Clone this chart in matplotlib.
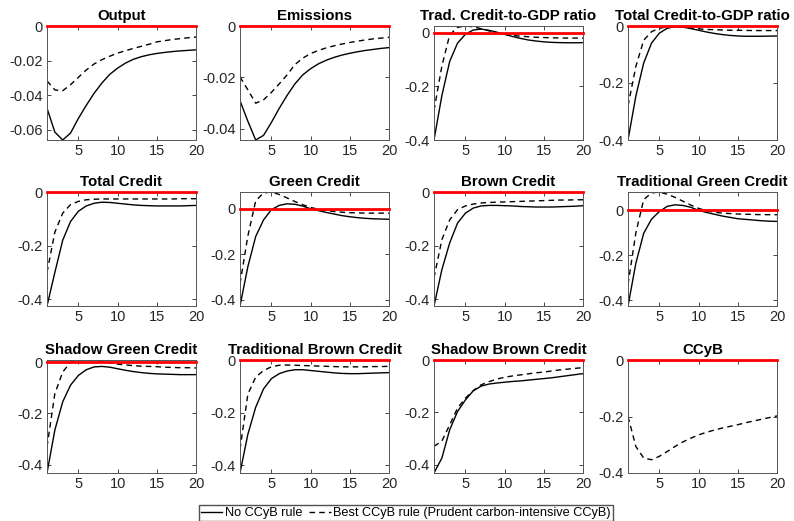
import matplotlib
matplotlib.use("Agg")
import matplotlib.pyplot as plt
import numpy as np

plt.rcParams['font.family'] = ['Liberation Sans', 'DejaVu Sans']
plt.rcParams['axes.unicode_minus'] = False

# horizon (quarters)
periods = list(range(1, 21))

titles = ["Output", "Emissions", "Trad. Credit-to-GDP ratio", "Total Credit-to-GDP ratio",
          "Total Credit", "Green Credit", "Brown Credit", "Traditional Green Credit",
          "Shadow Green Credit", "Traditional Brown Credit", "Shadow Brown Credit", "CCyB"]

# No CCyB rule (solid)
output_no = [-0.0476, -0.0614, -0.066, -0.062, -0.0535, -0.046, -0.039, -0.033, -0.028, -0.0244,
             -0.0215, -0.0193, -0.0178, -0.0167, -0.0159, -0.0153, -0.0148, -0.0144, -0.0141, -0.0138]
emis_no = [-0.029, -0.037, -0.0443, -0.0425, -0.0375, -0.032, -0.027, -0.0225, -0.019, -0.0166,
           -0.0147, -0.0133, -0.0122, -0.0113, -0.0106, -0.0100, -0.0095, -0.0091, -0.0087, -0.0084]
trad_ratio_no = [-0.40, -0.235, -0.107, -0.039, -0.006, 0.010, 0.0135, 0.009, 0.002, -0.006,
                 -0.014, -0.021, -0.027, -0.031, -0.034, -0.036, -0.037, -0.0375, -0.0375, -0.037]
tot_ratio_no = [-0.40, -0.246, -0.13, -0.06, -0.025, -0.008, -0.002, -0.004, -0.009, -0.015,
                -0.021, -0.026, -0.030, -0.033, -0.035, -0.036, -0.036, -0.036, -0.0355, -0.035]
tot_credit_no = [-0.425, -0.30, -0.18, -0.11, -0.072, -0.052, -0.042, -0.038, -0.039, -0.042,
                 -0.045, -0.048, -0.050, -0.051, -0.052, -0.052, -0.052, -0.052, -0.051, -0.050]
green_no = [-0.428, -0.255, -0.122, -0.049, -0.004, 0.015, 0.022, 0.020, 0.012, 0.0,
            -0.008, -0.016, -0.023, -0.030, -0.035, -0.039, -0.042, -0.044, -0.045, -0.046]
brown_no = [-0.425, -0.29, -0.19, -0.116, -0.079, -0.060, -0.052, -0.050, -0.050, -0.051,
            -0.052, -0.054, -0.055, -0.056, -0.056, -0.056, -0.055, -0.054, -0.053, -0.051]
trad_green_no = [-0.426, -0.236, -0.102, -0.039, -0.005, 0.018, 0.025, 0.022, 0.014, 0.0,
                 -0.009, -0.017, -0.025, -0.031, -0.037, -0.040, -0.043, -0.046, -0.048, -0.049]
shadow_green_no = [-0.432, -0.265, -0.155, -0.09, -0.052, -0.030, -0.019, -0.017, -0.020, -0.026,
                   -0.032, -0.037, -0.041, -0.044, -0.046, -0.047, -0.048, -0.049, -0.049, -0.049]
trad_brown_no = [-0.43, -0.283, -0.18, -0.11, -0.071, -0.052, -0.042, -0.037, -0.037, -0.040,
                 -0.043, -0.046, -0.049, -0.051, -0.052, -0.052, -0.051, -0.050, -0.049, -0.048]
shadow_brown_no = [-0.432, -0.375, -0.267, -0.197, -0.153, -0.118, -0.10, -0.092, -0.088, -0.085,
                   -0.082, -0.080, -0.077, -0.074, -0.071, -0.068, -0.064, -0.060, -0.056, -0.052]
ccyb_no = [0.0] * 20

# Best CCyB rule (dashed)
output_best = [-0.0318, -0.037, -0.0375, -0.034, -0.0297, -0.0255, -0.022, -0.0195, -0.0175, -0.0157,
               -0.0143, -0.013, -0.0118, -0.0106, -0.0092, -0.0085, -0.0078, -0.0073, -0.0068, -0.0064]
emis_best = [-0.0198, -0.0248, -0.030, -0.0287, -0.0258, -0.0225, -0.019, -0.0150, -0.0125, -0.0107,
             -0.0095, -0.0085, -0.0077, -0.0070, -0.0064, -0.0059, -0.0054, -0.0050, -0.0047, -0.0044]
trad_ratio_best = [-0.29, -0.125, -0.008, 0.020, 0.025, 0.022, 0.015, 0.007, 0.0, -0.006,
                   -0.010, -0.013, -0.015, -0.017, -0.018, -0.019, -0.0195, -0.02, -0.02, -0.02]
tot_ratio_best = [-0.28, -0.142, -0.05, -0.02, -0.008, -0.003, -0.002, -0.004, -0.007, -0.010,
                  -0.012, -0.013, -0.014, -0.015, -0.015, -0.0155, -0.016, -0.016, -0.016, -0.016]
tot_credit_best = [-0.30, -0.15, -0.079, -0.047, -0.035, -0.029, -0.027, -0.026, -0.026, -0.026,
                   -0.026, -0.026, -0.026, -0.026, -0.026, -0.026, -0.026, -0.025, -0.025, -0.025]
green_best = [-0.33, -0.12, 0.035, 0.070, 0.074, 0.063, 0.048, 0.032, 0.018, 0.006,
              -0.002, -0.008, -0.012, -0.015, -0.017, -0.018, -0.019, -0.019, -0.019, -0.019]
brown_best = [-0.32, -0.178, -0.104, -0.066, -0.052, -0.045, -0.041, -0.039, -0.038, -0.037,
              -0.036, -0.035, -0.034, -0.033, -0.032, -0.031, -0.030, -0.030, -0.029, -0.029]
trad_green_best = [-0.33, -0.10, 0.048, 0.078, 0.082, 0.072, 0.058, 0.041, 0.024, 0.009,
                   -0.001, -0.008, -0.012, -0.014, -0.016, -0.017, -0.018, -0.019, -0.019, -0.019]
shadow_green_best = [-0.33, -0.123, -0.039, 0.0, 0.006, 0.008, 0.007, 0.003, -0.003, -0.008,
                     -0.011, -0.014, -0.016, -0.017, -0.018, -0.020, -0.021, -0.022, -0.022, -0.023]
trad_brown_best = [-0.34, -0.13, -0.065, -0.04, -0.026, -0.020, -0.019, -0.020, -0.021, -0.022,
                   -0.023, -0.024, -0.025, -0.026, -0.026, -0.026, -0.026, -0.025, -0.025, -0.024]
shadow_brown_best = [-0.33, -0.31, -0.248, -0.184, -0.146, -0.117, -0.095, -0.083, -0.073, -0.066,
                     -0.061, -0.057, -0.053, -0.049, -0.046, -0.042, -0.038, -0.035, -0.032, -0.029]
ccyb_best = [-0.20, -0.306, -0.347, -0.353, -0.341, -0.324, -0.306, -0.29, -0.277, -0.265,
             -0.256, -0.248, -0.241, -0.235, -0.229, -0.222, -0.216, -0.210, -0.204, -0.198]

no_rule = [output_no, emis_no, trad_ratio_no, tot_ratio_no, tot_credit_no, green_no,
           brown_no, trad_green_no, shadow_green_no, trad_brown_no, shadow_brown_no, ccyb_no]
best_rule = [output_best, emis_best, trad_ratio_best, tot_ratio_best, tot_credit_best, green_best,
             brown_best, trad_green_best, shadow_green_best, trad_brown_best, shadow_brown_best, ccyb_best]

yticks_small = {0: [-0.06, -0.04, -0.02, 0], 1: [-0.04, -0.02, 0]}

W, H = 794, 521
fig = plt.figure(figsize=(W / 100, H / 100), dpi=100)

col_left = [47, 240, 434, 628]
row_top = [26, 192, 360]
row_bot = [140, 306, 473]
ax_w = 149

axc = '#262626'
for i in range(12):
    r, c = divmod(i, 4)
    ax = fig.add_axes([col_left[c] / W, 1 - row_bot[r] / H, ax_w / W, (row_bot[r] - row_top[r]) / H])
    l1, = ax.plot(periods, no_rule[i], color='black', lw=1.0, label='No CCyB rule')
    l2, = ax.plot(periods, best_rule[i], color='black', lw=1.0, ls=(0, (4, 3)),
                  label='Best CCyB rule (Prudent carbon-intensive CCyB)')
    ax.plot(periods, [0] * len(periods), color='red', lw=2.0, zorder=5, clip_on=False)
    if i == 0:
        handles = [l1, l2]
    ax.set_xlim(1, 20)
    ax.set_xticks([5, 10, 15, 20])
    vals = no_rule[i] + best_rule[i] + [0]
    if i == 11:
        ax.set_ylim(-0.4, 0)
    else:
        ax.set_ylim(min(vals), max(vals))
    ax.set_yticks(yticks_small.get(i, [-0.4, -0.2, 0]))
    ax.set_yticklabels([('%g' % t) for t in ax.get_yticks()])
    ax.tick_params(direction='in', top=True, right=True, length=3, width=0.6,
                   labelsize=10.5, colors=axc, labelcolor=axc, pad=3)
    for s in ax.spines.values():
        s.set_color('#555555')
        s.set_linewidth(0.7)
    ax.set_title(titles[i], fontsize=10.8, fontweight='bold', pad=4)

fig.legend(handles=handles, loc='lower center', bbox_to_anchor=(0.511, 0.0), ncol=2,
           fontsize=9.2, frameon=True, fancybox=False, edgecolor=axc, handlelength=1.7,
           columnspacing=0.5, handletextpad=0.2, borderpad=0.15, borderaxespad=0.0)

plt.savefig('out.png', dpi=100)
